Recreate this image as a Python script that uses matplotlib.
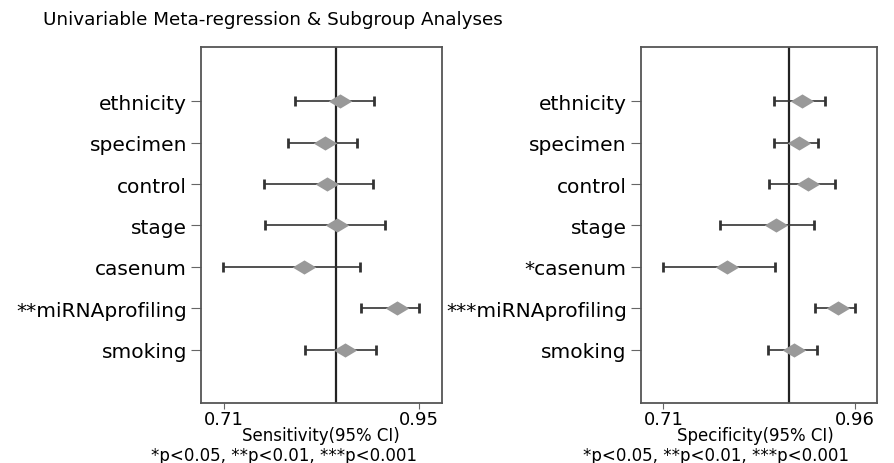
import matplotlib
matplotlib.use('Agg')
import matplotlib.pyplot as plt

plt.rcParams['font.family'] = 'DejaVu Sans'

# rows, top to bottom
sens_labels = ['ethnicity', 'specimen', 'control', 'stage', 'casenum',
               '**miRNAprofiling', 'smoking']
spec_labels = ['ethnicity', 'specimen', 'control', 'stage', '*casenum',
               '***miRNAprofiling', 'smoking']

sens_est = [0.853, 0.834, 0.837, 0.849, 0.808, 0.923, 0.859]
sens_lo = [0.797, 0.789, 0.759, 0.761, 0.709, 0.878, 0.809]
sens_hi = [0.894, 0.873, 0.893, 0.908, 0.877, 0.950, 0.897]
sens_ref = 0.848

spec_est = [0.890, 0.887, 0.899, 0.857, 0.793, 0.938, 0.880]
spec_lo = [0.854, 0.854, 0.847, 0.784, 0.709, 0.908, 0.846]
spec_hi = [0.920, 0.911, 0.933, 0.906, 0.856, 0.960, 0.910]
spec_ref = 0.874

diamond = [(-1, 0), (0, 0.6), (1, 0), (0, -0.6), (-1, 0)]


def forest(ax, labels, est, lo, hi, ref, ticks, xlim):
    n = len(labels)
    ypos = list(range(n, 0, -1))
    ax.axvline(ref, color='#222222', lw=1.6, zorder=1)
    for y, e, l, h in zip(ypos, est, lo, hi):
        ax.errorbar([e], [y], xerr=[[e - l], [h - e]], fmt='none',
                    ecolor='#333333', elinewidth=1.2, capsize=3.3,
                    capthick=2, zorder=2)
    ax.plot(est, ypos, linestyle='none', marker=diamond, markersize=17,
            color='#999999', markeredgewidth=0, zorder=3)
    ax.set_xlim(*xlim)
    ax.set_ylim(-0.29, n + 1.31)
    ax.set_yticks(ypos)
    ax.set_yticklabels(labels, fontsize=14.5)
    ax.set_xticks(ticks)
    ax.set_xticklabels(['%.2f' % t for t in ticks], fontsize=13)
    ax.tick_params(axis='y', length=7, width=0.8, color='#666666', pad=3)
    ax.tick_params(axis='x', length=4, width=0.8, color='#666666', pad=1)
    for s in ax.spines.values():
        s.set_color('#555555')
        s.set_linewidth(1.3)


fig = plt.figure(figsize=(8.94, 4.64), dpi=100)
ax1 = fig.add_axes([0.2248, 0.1293, 0.2696, 0.7672])
ax2 = fig.add_axes([0.7167, 0.1293, 0.2640, 0.7672])

forest(ax1, sens_labels, sens_est, sens_lo, sens_hi, sens_ref,
       [0.71, 0.95], (0.6817, 0.978))
forest(ax2, spec_labels, spec_est, spec_lo, spec_hi, spec_ref,
       [0.71, 0.96], (0.6805, 0.988))

fig.text(0.305, 0.957, 'Univariable Meta-regression & Subgroup Analyses',
         ha='center', va='center', fontsize=13.2)

fig.text(321 / 894, 1 - 436 / 464, 'Sensitivity(95% CI)',
         ha='center', va='center', fontsize=12)
fig.text(284 / 894, 1 - 456 / 464, '*p<0.05, **p<0.01, ***p<0.001',
         ha='center', va='center', fontsize=12)
fig.text(755 / 894, 1 - 436 / 464, 'Specificity(95% CI)',
         ha='center', va='center', fontsize=12)
fig.text(716 / 894, 1 - 456 / 464, '*p<0.05, **p<0.01, ***p<0.001',
         ha='center', va='center', fontsize=12)

fig.savefig('out.png', dpi=100)
